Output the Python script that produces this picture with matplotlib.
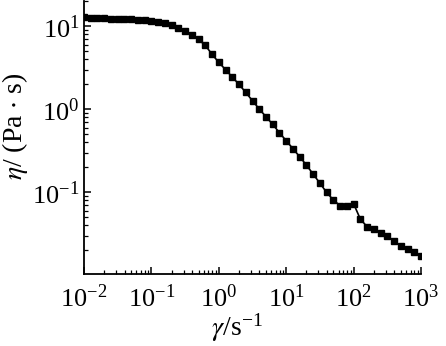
import numpy as np
import matplotlib
matplotlib.use("Agg")
import matplotlib.pyplot as plt
from matplotlib.ticker import LogLocator, FixedLocator, NullFormatter

plt.rcParams['font.family'] = ['Liberation Serif', 'DejaVu Serif']
plt.rcParams['mathtext.fontset'] = 'stix'

# ---------- data ----------
shear_rate = np.logspace(-2, 3, 51)   # 10 points per decade, 1e-2 .. 1e3
viscosity = [
    12.8, 12.7, 12.6, 12.5, 12.3, 12.2, 12.2, 12.1, 12.0, 11.8,
    11.7, 11.3, 10.9, 10.4, 9.55, 8.79, 7.94, 6.97, 5.90, 4.60,
    3.68, 3.01, 2.45, 2.00, 1.60, 1.27, 1.01, 0.816, 0.659, 0.523,
    0.419, 0.336, 0.269, 0.213, 0.166, 0.129, 0.100, 0.0809, 0.0691, 0.0691,
    0.0730, 0.0477, 0.0386, 0.0365, 0.0324, 0.0298, 0.0259, 0.0226, 0.0206, 0.0189,
    0.0169,
]
x_ticks = [1e-2, 1e-1, 1e0, 1e1, 1e2, 1e3]
x_ticklabels = ['10$^{\\mathregular{-2}}$', '10$^{\\mathregular{-1}}$', '10$^{\\mathregular{0}}$',
                '10$^{\\mathregular{1}}$', '10$^{\\mathregular{2}}$', '10$^{\\mathregular{3}}$']
y_ticks = [1e-1, 1e0, 1e1]
y_ticklabels = ['10$^{\\mathregular{-1}}$', '10$^{\\mathregular{0}}$', '10$^{\\mathregular{1}}$']

# ---------- figure ----------
fig = plt.figure(figsize=(4.46, 3.46), dpi=100)
ax = fig.add_axes([84 / 446, 72 / 346, 337 / 446, 273 / 346])

ax.plot(shear_rate, viscosity, color='black', lw=1.2,
        marker='s', markersize=4.3, markerfacecolor='black', markeredgecolor='black')

ax.set_xscale('log')
ax.set_yscale('log')
ax.set_xlim(1e-2, 1e3)
ax.set_ylim(0.0104, 20.2)

ax.spines['top'].set_visible(False)
ax.spines['right'].set_visible(False)
ax.spines['left'].set_linewidth(1.3)
ax.spines['bottom'].set_linewidth(1.3)

ax.xaxis.set_major_locator(FixedLocator(x_ticks))
ax.set_xticklabels(x_ticklabels)
ax.yaxis.set_major_locator(FixedLocator(y_ticks))
ax.set_yticklabels(y_ticklabels)
ax.xaxis.set_minor_locator(LogLocator(base=10, subs=np.arange(2, 10), numticks=20))
ax.yaxis.set_minor_locator(LogLocator(base=10, subs=np.arange(2, 10), numticks=20))
ax.xaxis.set_minor_formatter(NullFormatter())
ax.yaxis.set_minor_formatter(NullFormatter())

ax.tick_params(which='major', direction='in', length=5, width=1.1,
               labelsize=19, colors='black')
ax.tick_params(axis='x', which='major', pad=7)
ax.tick_params(axis='y', which='major', pad=3)
ax.tick_params(which='minor', direction='in', length=3, width=0.9)
ax.tick_params(axis='y', which='both', right=False)
ax.tick_params(axis='x', which='both', top=False)

ax.set_xlabel('$\\gamma$/s$^{\\mathregular{-1}}$', fontsize=20)
ax.xaxis.set_label_coords(0.455, -0.135)
ax.set_ylabel('$\\eta$/ (Pa $\\cdot$ s)', fontsize=20)
ax.yaxis.set_label_coords(-0.16, 0.54)

fig.savefig('out.png', dpi=100)
